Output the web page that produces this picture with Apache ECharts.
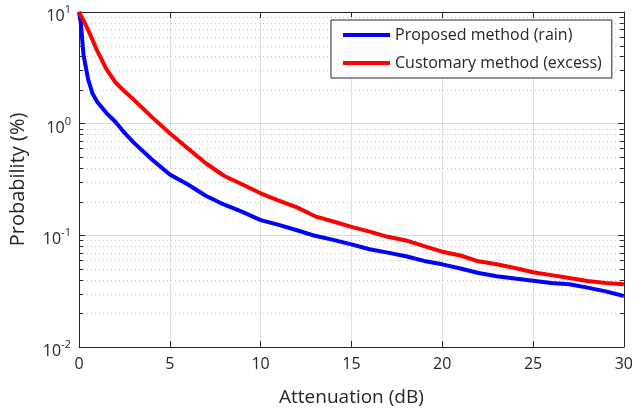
<!DOCTYPE html>
<html>
<head>
<meta charset="utf-8">
<script src="https://cdn.jsdelivr.net/npm/echarts@6/dist/echarts.min.js"></script>
<style>
  html, body { margin: 0; padding: 0; background: #fff; }
  #chart { width: 636px; height: 416px; }
</style>
</head>
<body>
<div id="chart"></div>
<script>
// Attenuation in dB
const attenuation = [0, 0.1, 0.25, 0.5, 0.75, 1, 1.5, 2, 2.5, 3, 4, 5, 6, 7, 8, 9, 10,
  11, 12, 13, 14, 15, 16, 17, 18, 19, 20, 21, 22, 23, 24, 25, 26, 27, 28, 29, 30];

// Exceedance probability (%) - proposed method (rain)
const proposedRain = [10, 8.0, 4.1, 2.5, 1.85, 1.57, 1.25, 1.04, 0.83, 0.68, 0.48, 0.35, 0.285,
  0.225, 0.188, 0.162, 0.137, 0.124, 0.111, 0.099, 0.091, 0.083, 0.075, 0.070, 0.065, 0.059,
  0.055, 0.0505, 0.046, 0.043, 0.041, 0.0392, 0.0375, 0.0365, 0.034, 0.0315, 0.0286];

// Exceedance probability (%) - customary method (excess)
const customaryExcess = [10, 9.3, 8.4, 6.9, 5.6, 4.5, 3.1, 2.35, 1.95, 1.65, 1.15, 0.82, 0.6,
  0.44, 0.34, 0.285, 0.238, 0.205, 0.178, 0.148, 0.133, 0.119, 0.108, 0.097, 0.090, 0.080,
  0.0714, 0.066, 0.0585, 0.055, 0.051, 0.0467, 0.044, 0.0415, 0.039, 0.0375, 0.0365];

const seriesNames = ['Proposed method (rain)', 'Customary method (excess)'];
const xTicks = [0, 5, 10, 15, 20, 25, 30];
const yDecades = [0.01, 0.1, 1, 10];
// minor log gridlines (2..9 of each decade)
const yMinor = [0.02, 0.03, 0.04, 0.05, 0.06, 0.07, 0.08, 0.09,
  0.2, 0.3, 0.4, 0.5, 0.6, 0.7, 0.8, 0.9,
  2, 3, 4, 5, 6, 7, 8, 9];

const FONT = 'Open Sans';
const INK = '#262626';

const pair = (xs, ys) => xs.map((x, i) => [x, ys[i]]);

const chart = echarts.init(document.getElementById('chart'), null, { renderer: 'canvas' });

const yLabel = {
  color: INK,
  fontFamily: FONT,
  margin: 8,
  padding: [5, 0, 0, 0],
  formatter: function (v) {
    const e = Math.round(Math.log10(v));
    return '{b|10}{s|' + e + '}';
  },
  rich: {
    b: { fontSize: 16, fontFamily: FONT, color: INK, verticalAlign: 'bottom', lineHeight: 20 },
    s: { fontSize: 11, fontFamily: FONT, color: INK, verticalAlign: 'top', lineHeight: 20, padding: [0, 0, 10, 0] }
  }
};

chart.setOption({
  animation: false,
  textStyle: { fontFamily: FONT },
  grid: { left: 79, right: 9, top: 12, bottom: 69 },
  legend: {
    data: seriesNames,
    orient: 'vertical',
    left: 331,
    top: 20,
    padding: [7, 10, 7, 12],
    icon: 'rect',
    itemWidth: 47,
    itemHeight: 4,
    itemGap: 12,
    backgroundColor: '#fff',
    borderColor: INK,
    borderWidth: 1,
    borderRadius: 0,
    textStyle: { fontFamily: FONT, fontSize: 16, color: INK }
  },
  xAxis: [
    {
      type: 'value', min: 0, max: 30, interval: 5,
      name: 'Attenuation (dB)', nameLocation: 'middle', nameGap: 41,
      nameTextStyle: { fontFamily: FONT, fontSize: 19, color: INK },
      axisLine: { show: true, onZero: false, lineStyle: { color: INK, width: 1 } },
      axisTick: { show: true, inside: true, length: 6, lineStyle: { color: INK } },
      axisLabel: { color: INK, fontFamily: FONT, fontSize: 16, margin: 9 },
      splitLine: { show: true, lineStyle: { color: '#dedede', width: 1 } }
    },
    {
      type: 'value', min: 0, max: 30, interval: 5, position: 'top',
      axisLine: { show: true, onZero: false, lineStyle: { color: INK, width: 1 } },
      axisTick: { show: true, inside: true, length: 6, lineStyle: { color: INK } },
      axisLabel: { show: false },
      splitLine: { show: false }
    }
  ],
  yAxis: [
    {
      type: 'log', logBase: 10, min: 0.01, max: 10, interval: 1,
      name: 'Probability (%)', nameLocation: 'middle', nameGap: 51,
      nameTextStyle: { fontFamily: FONT, fontSize: 20, color: INK },
      axisLine: { show: true, onZero: false, lineStyle: { color: INK, width: 1 } },
      axisTick: { show: true, inside: true, length: 6, lineStyle: { color: INK } },
      axisLabel: yLabel,
      splitLine: { show: true, lineStyle: { color: '#dedede', width: 1 } }
    },
    {
      type: 'log', logBase: 10, min: 0.01, max: 10, interval: 1, position: 'right',
      axisLine: { show: true, onZero: false, lineStyle: { color: INK, width: 1 } },
      axisTick: { show: true, inside: true, length: 6, lineStyle: { color: INK } },
      axisLabel: { show: false },
      splitLine: { show: false }
    }
  ],
  series: [
    {
      // dotted minor gridlines with inner minor ticks on both vertical edges
      type: 'custom',
      name: 'minor',
      silent: true,
      z: 1,
      xAxisIndex: 0, yAxisIndex: 0,
      data: yMinor.map(v => [0, v]),
      renderItem: function (params, api) {
        const cs = params.coordSys;
        const y = Math.round(api.coord([0, api.value(1)])[1]) + 0.5;
        const x0 = cs.x, x1 = cs.x + cs.width;
        return {
          type: 'group',
          children: [
            { type: 'line', shape: { x1: x0, y1: y, x2: x1, y2: y },
              style: { stroke: '#c4c4c4', lineWidth: 1, lineDash: [1, 3] } },
            { type: 'line', shape: { x1: x0, y1: y, x2: x0 + 4, y2: y },
              style: { stroke: INK, lineWidth: 1 } },
            { type: 'line', shape: { x1: x1 - 4, y1: y, x2: x1, y2: y },
              style: { stroke: INK, lineWidth: 1 } }
          ]
        };
      }
    },
    {
      type: 'line', name: seriesNames[0],
      data: pair(attenuation, proposedRain),
      symbol: 'none', smooth: false, z: 3,
      lineStyle: { color: '#0000ff', width: 4 },
      itemStyle: { color: '#0000ff' }
    },
    {
      type: 'line', name: seriesNames[1],
      data: pair(attenuation, customaryExcess),
      symbol: 'none', smooth: false, z: 3,
      lineStyle: { color: '#ff0000', width: 4 },
      itemStyle: { color: '#ff0000' }
    }
  ]
});
</script>
</body>
</html>
